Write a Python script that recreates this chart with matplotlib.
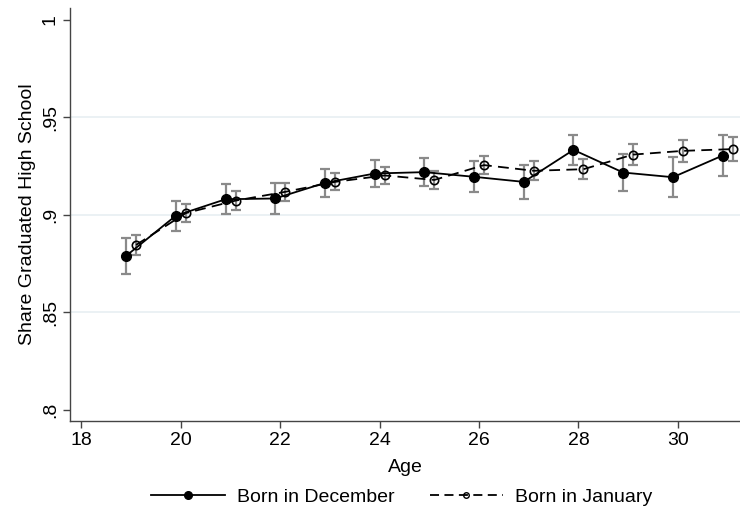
import matplotlib.pyplot as plt
from matplotlib.lines import Line2D
import numpy as np

plt.rcParams['font.family'] = ['Liberation Sans', 'DejaVu Sans']

ages = np.arange(19, 32)

# share graduated, born in December
dec_mean = [0.879, 0.8996, 0.9080, 0.9084, 0.9164, 0.9212, 0.9219,
            0.9195, 0.9169, 0.9333, 0.9217, 0.9193, 0.9304]
dec_err = [0.0093, 0.0077, 0.0078, 0.0080, 0.0073, 0.0070, 0.0073,
           0.0080, 0.0086, 0.0077, 0.0095, 0.0103, 0.0107]

# share graduated, born in January
jan_mean = [0.8846, 0.9009, 0.9073, 0.9118, 0.9169, 0.9202, 0.9179,
            0.9255, 0.9226, 0.9234, 0.9309, 0.9328, 0.9337]
jan_err = [0.0050, 0.0046, 0.0047, 0.0045, 0.0044, 0.0045, 0.0044,
           0.0047, 0.0048, 0.0050, 0.0053, 0.0056, 0.0063]

fig = plt.figure(figsize=(7.4, 5.23), dpi=100)
ax = fig.add_axes([0.0946, 0.1956, 0.9054, 0.789])

for y in [0.85, 0.9, 0.95]:
    ax.axhline(y, color='#e8eff2', lw=1.2, zorder=0)

ax.errorbar(ages - 0.1, dec_mean, yerr=dec_err, fmt='none', ecolor='#8a8a8a',
            elinewidth=1.6, capsize=3.7, capthick=1.6, zorder=2)
ax.errorbar(ages + 0.1, jan_mean, yerr=jan_err, fmt='none', ecolor='#8a8a8a',
            elinewidth=1.6, capsize=3.7, capthick=1.6, zorder=2)

dash = (0, (6, 3.5))
ax.plot(ages - 0.1, dec_mean, color='black', lw=1.3, marker='o', ms=7,
        mfc='black', mec='black', zorder=3)
ax.plot(ages + 0.1, jan_mean, color='black', lw=1.3, ls=dash, marker='o',
        ms=6, mfc='none', mec='black', mew=1.2, zorder=3)

ax.set_xlim(17.77, 31.25)
ax.set_ylim(0.7945, 1.006)
ax.set_xticks([18, 20, 22, 24, 26, 28, 30])
ax.set_yticks([0.8, 0.85, 0.9, 0.95, 1.0])
ax.set_yticklabels(['.8', '.85', '.9', '.95', '1'], rotation=90, va='center')

for s in ['top', 'right']:
    ax.spines[s].set_visible(False)
for s in ['left', 'bottom']:
    ax.spines[s].set_color('#444444')
    ax.spines[s].set_linewidth(1.0)
ax.tick_params(labelsize=14, length=5, width=1, color='#444444', pad=3)

ax.set_xlabel('Age', fontsize=14, labelpad=7)
ax.set_ylabel('Share Graduated High School', fontsize=14, labelpad=4)

handles = [
    Line2D([], [], color='black', lw=1.3, marker='o', ms=5.5, mfc='black'),
    Line2D([], [], color='black', lw=1.3, ls=(0, (5, 3)), marker='o', ms=4,
           mfc='none', mew=1.0),
]
fig.legend(handles, ['Born in December', 'Born in January'], loc='center',
           bbox_to_anchor=(0.543, 0.05), ncol=2, frameon=False, fontsize=14,
           handlelength=3.8, columnspacing=1.8, handletextpad=0.6)

fig.savefig('out.png', dpi=100)
